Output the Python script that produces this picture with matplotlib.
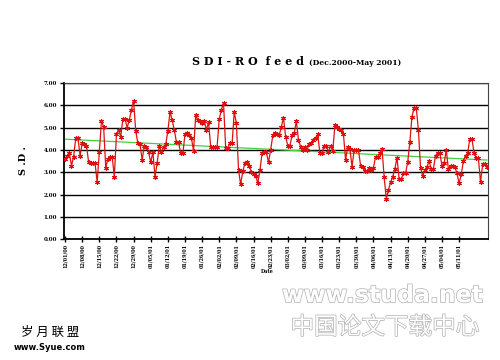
"""
SDI - RO feed 折线图 (Dec.2000-May 2001) 复现
"""
import numpy as np
import matplotlib
matplotlib.use('Agg')
import matplotlib.pyplot as plt
import matplotlib.patheffects as pe

# ── 数据 (从图上读取, 逐点估计) ──
sdi = [3.60, 3.75, 3.85, 3.30, 3.70, 4.55, 4.55, 3.75, 4.30, 4.25, 4.20, 3.45, 3.40, 3.40,
       3.40, 2.55, 3.90, 5.30, 5.05, 3.20, 3.60, 3.70, 3.70, 2.80, 4.70, 4.90, 4.60, 5.40,
       5.40, 5.00, 5.35, 5.80, 6.20, 4.85, 4.30, 4.25, 3.55, 4.20, 4.15, 3.90, 3.45, 3.90,
       2.80, 3.40, 4.20, 3.90, 4.15, 4.25, 4.85, 5.70, 5.35, 4.90, 4.35, 4.35, 3.85, 3.85,
       4.70, 4.75, 4.65, 4.55, 3.95, 5.55, 5.35, 5.30, 5.20, 5.30, 4.90, 5.25, 4.15, 4.15,
       4.15, 4.15, 5.40, 5.80, 6.10, 4.10, 4.10, 4.30, 4.30, 5.70, 5.20, 3.10, 2.45, 3.05,
       3.40, 3.45,
       3.30, 3.00, 2.90, 2.85, 2.50, 3.10, 3.85, 3.90, 3.90, 3.45, 4.00, 4.65, 4.75, 4.70,
       4.65, 5.05, 5.45, 4.60, 4.20, 4.20, 4.65, 4.75, 5.30, 4.45, 4.15, 4.00, 4.15, 4.00,
       4.25, 4.30, 4.45, 4.55, 4.70, 3.85, 3.85, 4.20, 4.20, 3.90, 4.20, 3.95, 5.10, 5.05,
       4.95, 4.90, 4.70, 3.55, 4.15, 4.05, 3.25, 4.00, 4.00, 4.00, 3.30, 3.25, 3.05, 3.05,
       3.20, 3.10, 3.20, 3.70, 3.70, 3.85, 4.05, 2.80, 1.80, 2.20, 2.55, 2.80, 3.15, 3.65,
       2.70, 2.70, 2.95, 2.95, 3.45, 4.35, 5.50, 5.90, 5.90, 4.90, 3.20, 2.85, 3.10, 3.25,
       3.50, 3.15, 3.15, 3.75, 3.85, 3.85, 3.30, 3.40, 4.00, 3.15, 3.30, 3.30, 3.25, 2.95,
       2.50, 2.90, 3.50, 3.75, 3.85, 4.50, 4.50, 3.85, 3.65, 3.65, 2.55, 3.35, 3.35, 3.25]

# 日期刻度 (每 8 个读数一个)
date_labels = ['12/01/00', '12/08/00', '12/15/00', '12/22/00', '12/29/00', '01/05/01',
               '01/12/01', '01/19/01', '01/26/01', '02/02/01', '02/09/01', '02/16/01',
               '02/23/01', '03/02/01', '03/09/01', '03/16/01', '03/23/01', '03/30/01',
               '04/06/01', '04/13/01', '04/20/01', '04/27/01', '05/04/01', '05/11/01']
tick_step = 8
y_ticks = [0, 1, 2, 3, 4, 5, 6, 7]

x = np.arange(len(sdi))
y = np.array(sdi)

fig = plt.figure(figsize=(5, 3.6), dpi=100)
ax = fig.add_axes([0.128, 0.336, 0.848, 0.433])

# 主线 + 线性趋势
ax.plot(x, y, '-', color='#e01010', lw=0.9, marker=(6, 2, 0), ms=3.5,
        mec='#e01010', mew=0.8, zorder=3)
k, b = np.polyfit(x, y, 1)
ax.plot(x, k * x + b, color='#40d040', lw=0.9, zorder=2)

ax.set_xlim(-0.5, len(sdi) - 0.5)
ax.set_ylim(0, 7)
ax.set_yticks(y_ticks)
ax.set_yticklabels([f'{v:.2f}' for v in y_ticks], fontsize=4, fontweight='bold',
                   family='DejaVu Serif')
ax.yaxis.grid(True, color='black', lw=1.0)
ax.set_axisbelow(True)

ticks = np.arange(len(date_labels)) * tick_step
ax.set_xticks(ticks)
ax.set_xticklabels(date_labels, rotation=90, fontsize=3.5, fontweight='bold',
                   family='DejaVu Serif')
ax.tick_params(axis='x', direction='inout', length=5, width=1.0, pad=1)
ax.tick_params(axis='y', direction='out', length=3, width=1.0, pad=2)

for side in ['left', 'bottom']:
    ax.spines[side].set_linewidth(1.3)
ax.spines['top'].set_color('#444444')
ax.spines['right'].set_color('#444444')

# 文字
fig.text(0.608, 0.828, 'S D I - R O  f e e d', fontsize=8, fontweight='bold',
         family='DejaVu Serif', ha='right', va='center')
fig.text(0.618, 0.826, '(Dec.2000-May 2001)', fontsize=5.5, fontweight='bold',
         family='DejaVu Serif', ha='left', va='center')
fig.text(0.046, 0.555, 'S .D .', fontsize=7, fontweight='bold', family='DejaVu Serif',
         rotation=90, ha='center', va='center')
fig.text(0.535, 0.245, 'Date', fontsize=3.5, fontweight='bold', family='DejaVu Serif',
         ha='center', va='center')

# 水印
outline = [pe.withStroke(linewidth=1.0, foreground='#b0b0b0')]
fig.text(0.765, 0.18, 'www.studa.net', fontsize=17, color='white', family='DejaVu Sans',
         fontweight='bold', ha='center', va='center', path_effects=outline)
fig.text(0.77, 0.09, '中国论文下载中心', fontsize=17, color='white',
         family=['Noto Sans CJK SC', 'DejaVu Sans'], ha='center', va='center',
         path_effects=outline)
fig.text(0.1, 0.078, '岁 月 联 盟', fontsize=9, color='black',
         family=['Noto Sans CJK SC', 'DejaVu Sans'], ha='center', va='center')
fig.text(0.1, 0.036, 'www.Syue.com', fontsize=6, color='black', family='DejaVu Sans',
         fontweight='bold', ha='center', va='center')

fig.savefig('out.png', dpi=100)
